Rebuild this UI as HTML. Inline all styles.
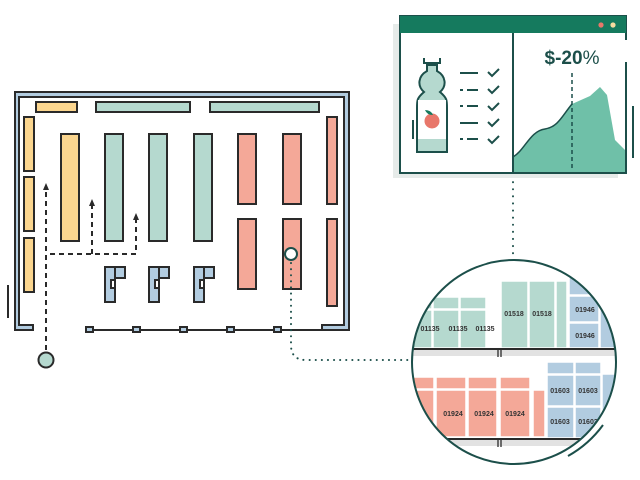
<!DOCTYPE html>
<html><head><meta charset="utf-8"><style>html,body{margin:0;padding:0;background:#fff}svg{display:block}</style></head>
<body>
<svg width="640" height="480" viewBox="0 0 640 480" xmlns="http://www.w3.org/2000/svg" font-family="Liberation Sans, sans-serif">
<defs><clipPath id="cc"><circle cx="514" cy="362" r="102"/></clipPath></defs>
<g stroke="#2a2a2a" stroke-width="2">
<path d="M15 92 H349 V330 H322 V325 H344 V97 H19 V325 H33 V330 H15 Z" fill="#b2cce0"/>
<line x1="8" y1="285" x2="8" y2="318"/>
<line x1="86" y1="330" x2="322" y2="330"/>
<g fill="#b2cce0"><rect x="86" y="327" width="7" height="5"/><rect x="133" y="327" width="7" height="5"/><rect x="180" y="327" width="7" height="5"/><rect x="227" y="327" width="7" height="5"/><rect x="274" y="327" width="7" height="5"/></g>
<rect x="36" y="102" width="41" height="10" fill="#fbd68f"/>
<rect x="96" y="102" width="94" height="10" fill="#b5d9cf"/>
<rect x="210" y="102" width="109" height="10" fill="#b5d9cf"/>
<g fill="#fbd68f"><rect x="24" y="117" width="10" height="54"/><rect x="24" y="177" width="10" height="54"/><rect x="24" y="238" width="10" height="54"/><rect x="61" y="134" width="18" height="107"/></g>
<g fill="#b5d9cf"><rect x="105" y="134" width="18" height="107"/><rect x="149" y="134" width="18" height="107"/><rect x="194" y="134" width="18" height="107"/></g>
<g fill="#f4a898"><rect x="238" y="134" width="18" height="70"/><rect x="283" y="134" width="18" height="70"/><rect x="238" y="219" width="18" height="70"/><rect x="283" y="219" width="18" height="70"/><rect x="327" y="117" width="10" height="87"/><rect x="327" y="219" width="10" height="87"/></g>
<g fill="#b2cce0">
<path d="M105 267 H125 V278 H115 V302 H105 Z"/><line x1="115" y1="267" x2="115" y2="278"/><rect x="111" y="280" width="4" height="8" fill="#fff"/>
<path d="M149 267 H169 V278 H159 V302 H149 Z"/><line x1="159" y1="267" x2="159" y2="278"/><rect x="155" y="280" width="4" height="8" fill="#fff"/>
<path d="M194 267 H214 V278 H204 V302 H194 Z"/><line x1="204" y1="267" x2="204" y2="278"/><rect x="200" y="280" width="4" height="8" fill="#fff"/>
</g>
</g>
<g stroke="#2a2a2a" stroke-width="2" fill="none" stroke-dasharray="5,4">
<path d="M46 350 V190"/><path d="M50 254 H136 V220"/><path d="M92 254 V206"/>
</g>
<g fill="#2a2a2a"><path d="M43 190 L46 183 L49 190Z"/><path d="M89 206 L92 199 L95 206Z"/><path d="M133 220 L136 213 L139 220Z"/></g>
<circle cx="46" cy="360" r="7.5" fill="#b5d9cf" stroke="#2a2a2a" stroke-width="2"/>
<circle cx="291" cy="254" r="6" fill="#fff" stroke="#1c4f4a" stroke-width="2"/>
<path d="M291 263 V345 Q291 360 306 360 H410" fill="none" stroke="#1c4f4a" stroke-width="2" stroke-dasharray="0.1,6" stroke-linecap="round"/>
<path d="M513 175 V300" fill="none" stroke="#1c4f4a" stroke-width="2" stroke-dasharray="0.1,7" stroke-linecap="round"/>
<rect x="393" y="24" width="225" height="154" fill="#e6ebe9"/>
<rect x="400" y="16" width="226" height="157" fill="#fff" stroke="#1c4f4a" stroke-width="2"/>
<rect x="400" y="16" width="226" height="17" fill="#157a5e"/>
<circle cx="601" cy="25" r="2.6" fill="#e8776a"/><circle cx="613" cy="25" r="2.6" fill="#f6dba0"/>
<path d="M513 157 C525 150 530 131 545 129 C558 127 562 116 572 104 L590 96 L600 87 L607 95 L615 140 L625 150 V172 H513 Z" fill="#6fc0a8"/>
<path d="M513 157 C525 150 530 131 545 129 C558 127 562 116 572 104" fill="none" stroke="#1c4f4a" stroke-width="1.5"/>
<line x1="572" y1="73" x2="572" y2="170" stroke="#1c4f4a" stroke-width="1.5" stroke-dasharray="4,3"/>
<line x1="513" y1="33" x2="513" y2="173" stroke="#1c4f4a" stroke-width="2"/>
<line x1="626" y1="40" x2="626" y2="62" stroke="#fff" stroke-width="3"/>
<line x1="633" y1="106" x2="633" y2="158" stroke="#1c4f4a" stroke-width="2"/>
<text x="572" y="64" text-anchor="middle" font-size="19" fill="#1c4f4a"><tspan font-weight="bold">$-20</tspan><tspan>%</tspan></text>
<path d="M427 65 V71 C418 76 417 86 424 92 C417 98 417 100 417 108 V152 H447 V108 C447 100 447 98 440 92 C447 86 446 76 437 71 V65 Z" fill="#b5d9cf" stroke="#1c4f4a" stroke-width="2"/>
<rect x="418" y="100" width="28" height="39" fill="#fff"/>
<path d="M424 58 V63 H440 V58" fill="none" stroke="#1c4f4a" stroke-width="2"/>
<line x1="413" y1="120" x2="413" y2="139" stroke="#1c4f4a" stroke-width="2"/>
<circle cx="432" cy="121" r="7.5" fill="#e8776a"/>
<path d="M425 110 Q431 110 433 115 Q427 115 425 110Z" fill="#157a5e"/>
<g stroke="#1c4f4a" stroke-width="2" fill="none">
<line x1="460" y1="73" x2="478" y2="73"/><path d="M460 90 h3 M467 90 h11"/><path d="M460 106 h3 M467 106 h11"/><line x1="460" y1="123" x2="478" y2="123"/><path d="M460 139 h3 M467 139 h11"/>
<path d="M488 72 l4 4 l7 -7"/><path d="M488 89 l4 4 l7 -7"/><path d="M488 106 l4 4 l7 -7"/><path d="M488 122 l4 4 l7 -7"/><path d="M488 139 l4 4 l7 -7"/>
</g>
<g clip-path="url(#cc)">
<rect x="400" y="250" width="240" height="220" fill="#fff"/>
<g fill="#b5d9cf" stroke="#fff" stroke-width="1.5">
<rect x="405" y="297" width="27" height="12"/><rect x="405" y="310" width="27" height="38"/>
<rect x="433" y="297" width="26" height="12"/><rect x="433" y="310" width="26" height="38"/>
<rect x="460" y="297" width="26" height="12"/><rect x="460" y="310" width="26" height="38"/>
<rect x="501" y="281" width="27" height="67"/><rect x="529" y="281" width="26" height="67"/><rect x="556" y="281" width="11" height="67"/>
</g>
<g fill="#b2cce0" stroke="#fff" stroke-width="1.5">
<rect x="569" y="255" width="30" height="40"/><rect x="569" y="296" width="30" height="26"/><rect x="569" y="323" width="30" height="25"/><rect x="600" y="255" width="30" height="93"/>
<rect x="547" y="362" width="27" height="12"/><rect x="575" y="362" width="26" height="12"/>
<rect x="547" y="375" width="27" height="31"/><rect x="575" y="375" width="26" height="31"/>
<rect x="547" y="407" width="27" height="31"/><rect x="575" y="407" width="26" height="31"/><rect x="602" y="374" width="20" height="64"/>
</g>
<g fill="#f4a898" stroke="#fff" stroke-width="1.5">
<rect x="400" y="377" width="34" height="12"/><rect x="400" y="390" width="34" height="47"/>
<rect x="436" y="377" width="30" height="12"/><rect x="436" y="390" width="30" height="47"/>
<rect x="468" y="377" width="29" height="12"/><rect x="468" y="390" width="29" height="47"/>
<rect x="500" y="377" width="30" height="12"/><rect x="500" y="390" width="30" height="47"/>
<rect x="533" y="390" width="12" height="47"/>
</g>
<rect x="400" y="348" width="240" height="8" fill="#e2e2e2"/><line x1="400" y1="349" x2="640" y2="349" stroke="#2a2a2a" stroke-width="2"/>
<rect x="400" y="438" width="240" height="8" fill="#e2e2e2"/><line x1="400" y1="439" x2="640" y2="439" stroke="#2a2a2a" stroke-width="2"/>
<path d="M498 349 V357 M501 349 V357 M498 439 V447 M501 439 V447" stroke="#2a2a2a" stroke-width="1.3"/>
<g font-size="7" font-weight="bold" fill="#333" text-anchor="middle">
<text x="430" y="331">01135</text><text x="458" y="331">01135</text><text x="485" y="331">01135</text>
<text x="514" y="316">01518</text><text x="542" y="316">01518</text>
<text x="585" y="312">01946</text><text x="585" y="338">01946</text>
<text x="453" y="416">01924</text><text x="484" y="416">01924</text><text x="515" y="416">01924</text>
<text x="560" y="393">01603</text><text x="588" y="393">01603</text><text x="560" y="424">01603</text><text x="588" y="424">01603</text>
</g>
</g>
<circle cx="514" cy="362" r="102" fill="none" stroke="#1c4f4a" stroke-width="2"/>
<path d="M473 265 L486 261" stroke="#fff" stroke-width="4"/>
<path d="M568 456 A109 109 0 0 0 603 425" fill="none" stroke="#1c4f4a" stroke-width="2"/>
</svg>
</body></html>
